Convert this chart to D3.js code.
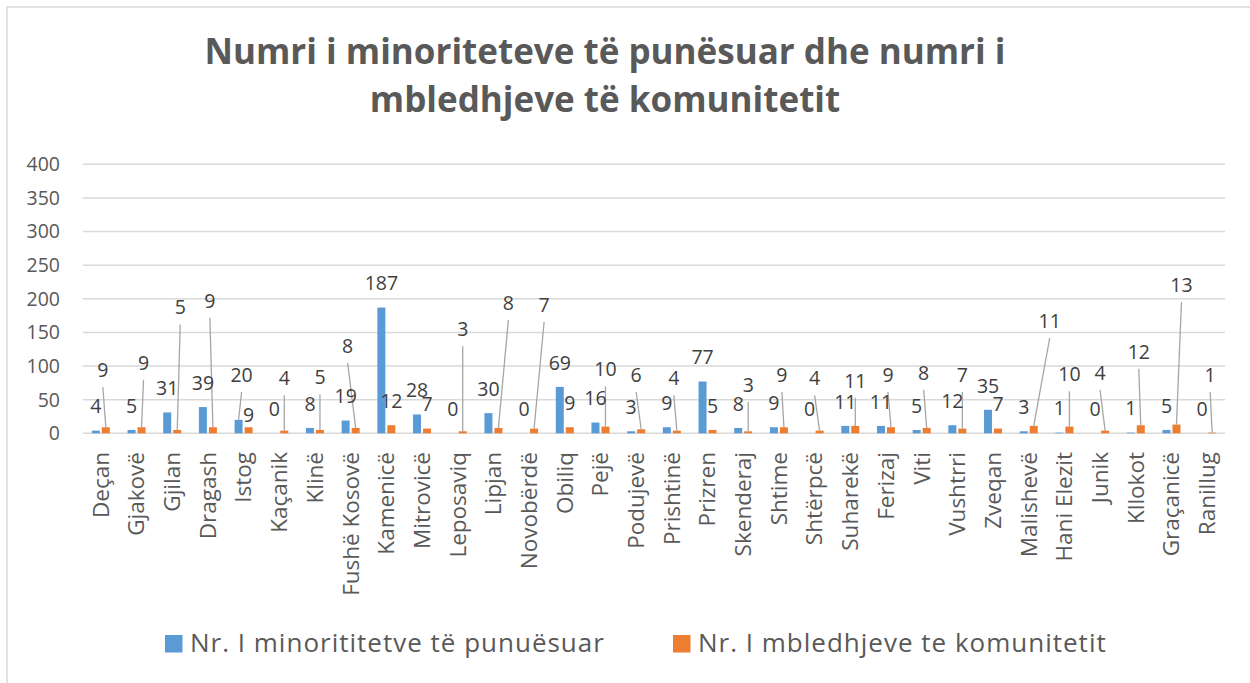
<!DOCTYPE html>
<html>
<head>
<meta charset="utf-8">
<script src="https://cdn.jsdelivr.net/npm/d3@7"></script>
<style>
  body { margin: 0; background: #fff; }
  svg { display: block; font-family: "Open Sans", sans-serif; }
</style>
</head>
<body>
<svg id="chart" width="1250" height="683"></svg>
<script>
// municipalities, in the order of the original chart
const municipalities = ["Deçan", "Gjakovë", "Gjilan", "Dragash", "Istog", "Kaçanik", "Klinë", "Fushë Kosovë",
  "Kamenicë", "Mitrovicë", "Leposaviq", "Lipjan", "Novobërdë", "Obiliq", "Pejë", "Podujevë", "Prishtinë",
  "Prizren", "Skenderaj", "Shtime", "Shtërpcë", "Suharekë", "Ferizaj", "Viti", "Vushtrri", "Zveqan",
  "Malishevë", "Hani Elezit", "Junik", "Kllokot", "Graçanicë", "Ranillug"];

const employedMinorities = [4, 5, 31, 39, 20, 0, 8, 19, 187, 28, 0, 30, 0, 69, 16, 3, 9, 77, 8, 9, 0, 11, 11, 5, 12, 35, 3, 1, 0, 1, 5, 0];
const communityMeetings = [9, 9, 5, 9, 9, 4, 5, 8, 12, 7, 3, 8, 7, 9, 10, 6, 4, 5, 3, 9, 4, 11, 9, 8, 7, 7, 11, 10, 4, 12, 13, 1];

const seriesNames = ["Nr. I minorititetve të punuësuar", "Nr. I mbledhjeve te komunitetit"];
const yTicks = [0, 50, 100, 150, 200, 250, 300, 350, 400];

// where the dragged data labels sit (in axis units), null = default spot above the bar
const blueLabelAt = [null, null, null, null, 86.7, null, null, null, null, null, null, null, null, null, null, null,
  null, null, null, null, null, null, null, null, null, null, null, null, null, null, null, null];
const blueLabelDx = [0, 0, 0, 0, 3, 0, 0, 0, 0, 0, 0, 0, 0, 0, 0, 0, 0, 0, 0, 0, 0, 0, 0, 0, 0, 0, 0, 0, 0, 0, 0, 0];
const orangeLabelAt = [94, 105, 187, 196.7, 27, 81.8, 83, 130, null, null, 154.6, 194, 190.8, null, 95, 86.7,
  81.8, null, 71.8, 86.7, 81.8, 78, 86.7, 90, 86.7, null, 167, 87.7, 90, 121.3, 220.5, 86.7];
const orangeLabelDx = [-3, 2, 3, -3, 0, 0, 0, -8, 0, 0, 0, 10, 10, 0, 0, -5, -3, 0, 0, -2, -5, 0, -3, -3, 0, 0,
  16, 0, -5, -2, 5, -2];

const COLORS = ["#5b9bd5", "#ed7d31"];

const svg = d3.select("#chart");

// chart frame (only top/left edges are visible in the original)
svg.append("rect")
  .attr("x", 7).attr("y", 7)
  .attr("width", 1300).attr("height", 720)
  .attr("fill", "none")
  .attr("stroke", "#d9d9d9")
  .attr("stroke-width", 1.5);

// title
const title = svg.append("text")
  .attr("text-anchor", "middle")
  .attr("fill", "#595959")
  .style("font-size", "35px")
  .style("font-weight", "bold");
title.append("tspan").attr("x", 605).attr("y", 64).text("Numri i minoriteteve të punësuar dhe numri i");
title.append("tspan").attr("x", 605).attr("y", 112).text("mbledhjeve të komunitetit");

// scales
const x = d3.scaleBand()
  .domain(municipalities)
  .range([83, 1225])
  .padding(0);

const inner = d3.scaleBand()
  .domain([0, 1])
  .range([x.bandwidth() / 2 - 9, x.bandwidth() / 2 + 9])
  .paddingInner(0.2);

const y = d3.scaleLinear()
  .domain([0, 400])
  .range([433.3, 164.3]);

// gridlines
svg.append("g")
  .selectAll("line")
  .data(yTicks)
  .join("line")
  .attr("x1", 83).attr("x2", 1225)
  .attr("y1", d => y(d)).attr("y2", d => y(d))
  .attr("stroke", "#d9d9d9")
  .attr("stroke-width", 1.5);

// y axis labels
svg.append("g")
  .selectAll("text")
  .data(yTicks)
  .join("text")
  .attr("x", 60)
  .attr("y", d => y(d))
  .attr("dy", "0.35em")
  .attr("text-anchor", "end")
  .attr("fill", "#595959")
  .style("font-size", "19.5px")
  .text(d => d);

// rows for the bars
const rows = municipalities.map((m, i) => ({
  name: m,
  values: [employedMinorities[i], communityMeetings[i]],
  labelAt: [blueLabelAt[i], orangeLabelAt[i]],
  labelDx: [blueLabelDx[i], orangeLabelDx[i]]
}));

const groups = svg.append("g")
  .selectAll("g")
  .data(rows)
  .join("g")
  .attr("transform", d => "translate(" + x(d.name) + ",0)");

groups.selectAll("rect")
  .data(d => d.values.map((v, k) => ({ v, k })))
  .join("rect")
  .attr("x", d => inner(d.k))
  .attr("width", inner.bandwidth())
  .attr("y", d => y(d.v))
  .attr("height", d => y(0) - y(d.v))
  .attr("fill", d => COLORS[d.k]);

// data labels, some of them dragged away with a leader line
const labelInfo = d => {
  const out = [];
  d.values.forEach((v, k) => {
    const barX = inner(k) + inner.bandwidth() / 2;
    const barTop = y(v);
    const defY = barTop - 24;
    const ly = d.labelAt[k] == null ? defY : y(d.labelAt[k]);
    const lx = barX + d.labelDx[k];
    out.push({ v, k, barX, barTop, lx, ly, leader: Math.abs(ly - defY) > 16 });
  });
  return out;
};

groups.selectAll("line.leader")
  .data(d => labelInfo(d).filter(l => l.leader))
  .join("line")
  .attr("class", "leader")
  .attr("x1", l => l.lx).attr("y1", l => l.ly + 17)
  .attr("x2", l => l.barX).attr("y2", l => l.barTop)
  .attr("stroke", "#a6a6a6")
  .attr("stroke-width", 1.3);

groups.selectAll("text.val")
  .data(labelInfo)
  .join("text")
  .attr("class", "val")
  .attr("x", l => l.lx)
  .attr("y", l => l.ly)
  .attr("dy", "0.35em")
  .attr("text-anchor", "middle")
  .attr("fill", "#404040")
  .style("font-size", "19.5px")
  .text(l => l.v);

// category labels, rotated
svg.append("g")
  .selectAll("text")
  .data(municipalities)
  .join("text")
  .attr("transform", d => "translate(" + (x(d) + x.bandwidth() / 2) + ",452) rotate(-90)")
  .attr("dy", "0.35em")
  .attr("text-anchor", "end")
  .attr("fill", "#595959")
  .style("font-size", "22.5px")
  .text(d => d);

// legend
const legendX = [165, 673];
const legend = svg.append("g")
  .selectAll("g")
  .data(seriesNames)
  .join("g")
  .attr("transform", (d, i) => "translate(" + legendX[i] + ",635)");

legend.append("rect")
  .attr("width", 17.5).attr("height", 17.5)
  .attr("fill", (d, i) => COLORS[i]);

legend.append("text")
  .attr("x", 25)
  .attr("y", 17)
  .attr("fill", "#595959")
  .style("font-size", "26px")
  .style("letter-spacing", "1px")
  .text(d => d);
</script>
</body>
</html>
